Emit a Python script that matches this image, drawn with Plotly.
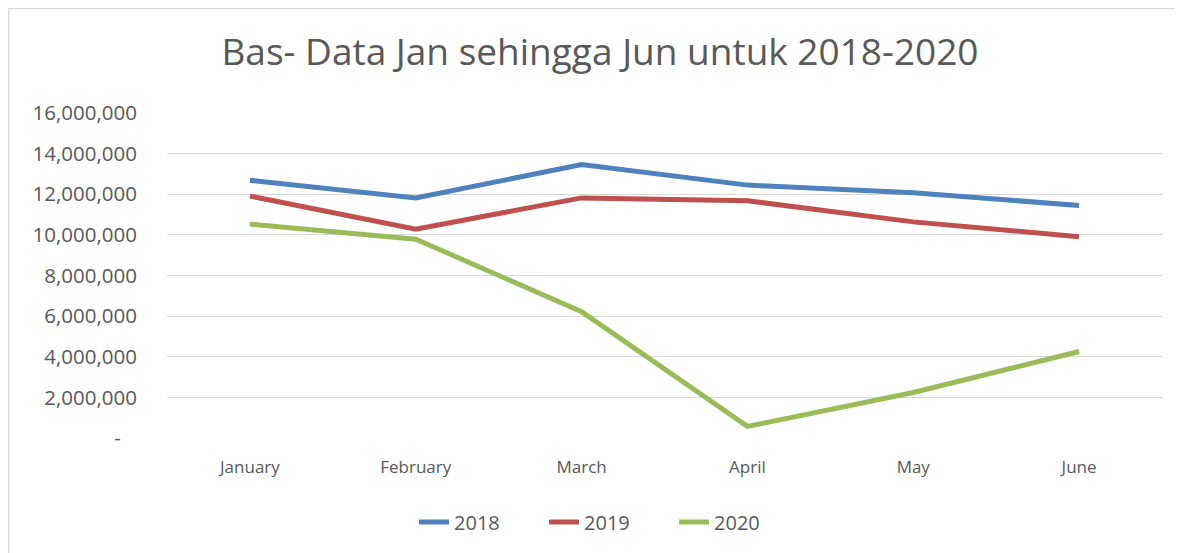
import plotly.graph_objects as go

months = ["January", "February", "March", "April", "May", "June"]
v2018 = [12690000, 11820000, 13460000, 12450000, 12070000, 11450000]
v2019 = [11910000, 10280000, 11820000, 11680000, 10640000, 9910000]
v2020 = [10530000, 9790000, 6220000, 570000, 2240000, 4260000]
ytickvals = [0, 2000000, 4000000, 6000000, 8000000, 10000000, 12000000, 14000000, 16000000]
yticktext = ["-   ", "2,000,000", "4,000,000", "6,000,000", "8,000,000", "10,000,000",
             "12,000,000", "14,000,000", "16,000,000"]

series = [("2018", v2018, "#4F81BD"), ("2019", v2019, "#C0504D"), ("2020", v2020, "#9BBB59")]

# page body has an 8px margin, so the figure is shifted by 8px
W, H = 1175, 545
L, R, T, B = 159, 1154, 105, 430

fig = go.Figure()
for name, vals, col in series:
    fig.add_trace(go.Scatter(x=months, y=vals, name=name, mode="lines",
                             line=dict(color=col, width=5)))

font_family = "Open Sans, Liberation Sans, sans-serif"
fig.update_layout(
    width=W, height=H,
    margin=dict(l=L, r=W - R, t=T, b=H - B),
    paper_bgcolor="white", plot_bgcolor="white",
    font=dict(family=font_family, color="#595959"),
    title=dict(text="Bas- Data Jan sehingga Jun untuk 2018-2020", x=592 / W, xanchor="center",
               y=1 - 44 / H, yanchor="middle",
               font=dict(size=37, color="#595959", family=font_family)),
    xaxis=dict(showgrid=False, zeroline=False, showline=False, range=[-0.5, 5.5],
               tickfont=dict(size=17, color="#595959"), ticks="outside",
               ticklen=14, tickcolor="rgba(0,0,0,0)"),
    yaxis=dict(range=[0, 16000000], tickvals=ytickvals, ticktext=yticktext,
               showgrid=True, gridcolor="#d9d9d9", gridwidth=1, zeroline=False,
               tickfont=dict(size=20.5, color="#595959"), ticks="outside",
               ticklen=25, tickcolor="rgba(0,0,0,0)"),
    legend=dict(orientation="h", x=(414 - L) / (R - L) - 0.008, xanchor="left",
                y=(B - 514) / (B - T),
                yanchor="middle", font=dict(size=20, color="#595959"),
                entrywidth=85, entrywidthmode="pixels"),
    showlegend=True,
)

# outer chart border (only top and left edges are visible in the crop)
fig.add_shape(type="line", xref="paper", yref="paper",
              x0=(0.5 - L) / (R - L), x1=(W - L) / (R - L),
              y0=(B - 0.5) / (B - T), y1=(B - 0.5) / (B - T),
              line=dict(color="#d9d9d9", width=1.5), layer="below")
fig.add_shape(type="line", xref="paper", yref="paper",
              x0=(0.5 - L) / (R - L), x1=(0.5 - L) / (R - L),
              y0=(B - H) / (B - T), y1=(B - 0.5) / (B - T),
              line=dict(color="#d9d9d9", width=1.5), layer="below")

fig.write_html("out.html")
